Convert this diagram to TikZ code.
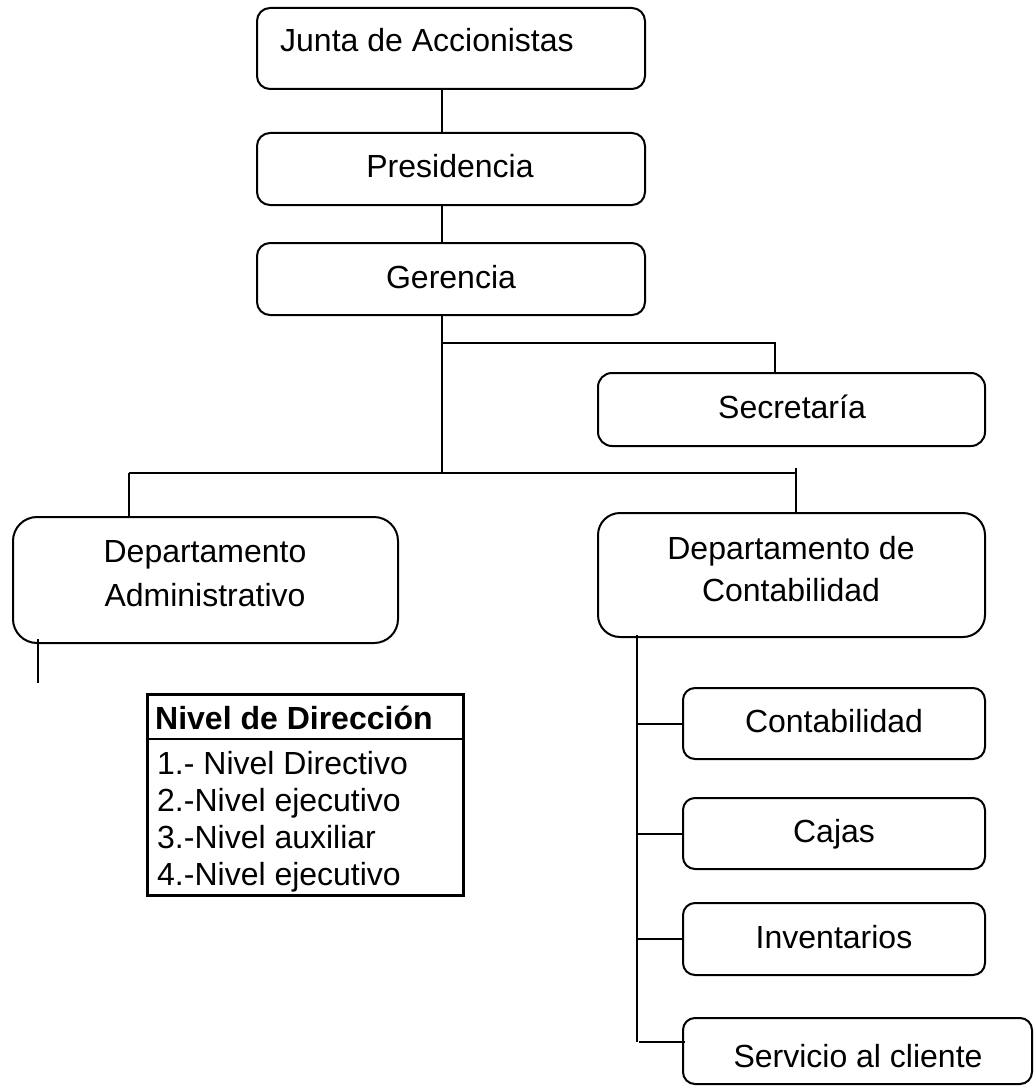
\documentclass[tikz,border=0pt]{standalone}
\usepackage{fontspec}
\setmainfont{Liberation Sans}
\begin{document}
\begin{tikzpicture}[x=1pt,y=-1pt,
  box/.style={draw, line width=2pt, rounded corners=#1, inner sep=0pt},
  box/.default=13pt,
  lbl/.style={anchor=base, inner sep=0pt, font=\fontsize{32}{37}\selectfont},
  leg/.style={anchor=base west, inner sep=0pt, font=\fontsize{32}{37}\selectfont},
  link/.style={line width=2pt}]
\useasboundingbox (0,0) rectangle (1033,1086);

% upper chain
\node[box, minimum width=388pt, minimum height=81pt] (junta) at (451,48.5) {};
\node[box, minimum width=388pt, minimum height=72pt] (pres) at (451,169) {};
\node[box, minimum width=388pt, minimum height=72pt] (ger) at (451,279) {};
\node[box=14pt, minimum width=387pt, minimum height=73pt] (sec) at (791.5,409.5) {};

% departments
\node[box=24pt, minimum width=385pt, minimum height=126pt] (adm) at (205.5,580) {};
\node[box=22pt, minimum width=387pt, minimum height=124pt] (con) at (791.5,575) {};

% accounting units
\node[box=12pt, minimum width=302pt, minimum height=71pt] (u1) at (834,723.5) {};
\node[box=12pt, minimum width=302pt, minimum height=71pt] (u2) at (834,833.5) {};
\node[box=12pt, minimum width=302pt, minimum height=72pt] (u3) at (834,939) {};
\node[box=12pt, minimum width=349pt, minimum height=66pt] (u4) at (857.5,1051) {};

% labels
\node[lbl, anchor=base west] (tjunta) at (280,52) {Junta de Accionistas};
\node[lbl] (tpres) at (450,178) {Presidencia};
\node[lbl] (tger) at (451,288) {Gerencia};
\node[lbl] (tsec) at (792,418) {Secretaría};
\node[lbl] (tadm1) at (205,562) {Departamento};
\node[lbl] (tadm2) at (205,606) {Administrativo};
\node[lbl] (tcon1) at (791,559) {Departamento de};
\node[lbl] (tcon2) at (791,601) {Contabilidad};
\node[lbl] (tu1) at (834,732) {Contabilidad};
\node[lbl] (tu2) at (834,842) {Cajas};
\node[lbl] (tu3) at (834,948) {Inventarios};
\node[lbl] (tu4) at (858,1067) {Servicio al cliente};

% junction points
\coordinate (gx) at (442,473);
\coordinate (sx) at (442,343);
\coordinate (sr) at (775,343);
\coordinate (bl) at (129,473);
\coordinate (br) at (796,473);
\coordinate (bt) at (796,468);
\coordinate (as) at (38,683);
\coordinate (ct) at (637,635);
\coordinate (cb) at (637,1042);

% connectors
\draw[link] (junta.south -| gx) -- (pres.north -| gx);
\draw[link] (pres.south -| gx) -- (ger.north -| gx);
\draw[link] (ger.south -| gx) -- (gx);
\draw[link] (sx) -- (sr) -- (sec.north -| sr);
\draw[link] (bl) -- (br);
\draw[link] (bl) -- (adm.north -| bl);
\draw[link] (bt) -- (con.north -| bt);
\draw[link] (38,639) -- (as);
\draw[link] (ct) -- (cb);
\draw[link] (ct |- u1.west) -- (u1.west);
\draw[link] (ct |- u2.west) -- (u2.west);
\draw[link] (ct |- u3.west) -- (u3.west);
\draw[link] (639,1042) -- ([xshift=3pt]u4.west |- cb);

% legend table
\node[draw, line width=3pt, inner sep=0pt, minimum width=316pt, minimum height=201pt] (legend) at (305,794.5) {};
\draw[line width=2.5pt] (legend.west |- 0,739) -- (legend.east |- 0,739);
\node[leg, font=\fontsize{32}{37}\selectfont\bfseries] (lh) at (155,729) {Nivel de Dirección};
\node[leg] (l1) at (157,774) {1.- Nivel Directivo};
\node[leg] (l2) at (157,811) {2.-Nivel ejecutivo};
\node[leg] (l3) at (157,848) {3.-Nivel auxiliar};
\node[leg] (l4) at (157,885) {4.-Nivel ejecutivo};
\end{tikzpicture}
\end{document}
